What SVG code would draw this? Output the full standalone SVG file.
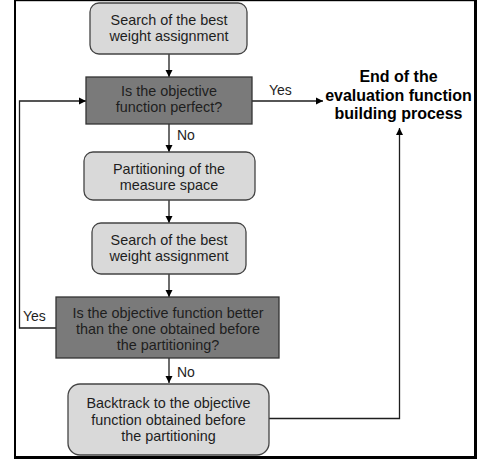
<svg xmlns="http://www.w3.org/2000/svg" width="478" height="461" viewBox="0 0 478 461">
<style>
.light{fill:#d9d9d9;stroke:#444;stroke-width:1.3}
.dark{fill:#7a7a7a;stroke:#333;stroke-width:1.3}
.t{font-family:"Liberation Sans",Arial,sans-serif;font-size:14.4px;fill:#1e1e1e;text-anchor:middle}
.lbl{font-family:"Liberation Sans",Arial,sans-serif;font-size:14px;fill:#1e1e1e}
.end{font-family:"Liberation Sans",Arial,sans-serif;font-size:16px;font-weight:bold;fill:#000;text-anchor:middle}
.c{fill:none;stroke:#1e1e1e;stroke-width:1.3}
</style>
<defs>
<marker id="ah" markerUnits="userSpaceOnUse" markerWidth="8" markerHeight="8" refX="7" refY="4" orient="auto">
<path d="M0,0.5 L7,4 L0,7.5 z" fill="#000"/>
</marker>
</defs>
<rect x="0" y="0" width="478" height="461" fill="#fff"/>
<g id="frame">
<rect x="14" y="0" width="2" height="459" fill="#000"/>
<rect x="14" y="0" width="463" height="1.2" fill="#000"/>
<rect x="474" y="0" width="3" height="459" fill="#000"/>
<rect x="14" y="456" width="463" height="3" fill="#000"/>
</g>
<g id="connectors">
<line class="c" x1="169" y1="54" x2="169" y2="77" marker-end="url(#ah)"/>
<line class="c" x1="252" y1="101" x2="323" y2="101" marker-end="url(#ah)"/>
<line class="c" x1="169" y1="124" x2="169" y2="152" marker-end="url(#ah)"/>
<line class="c" x1="169" y1="200" x2="169" y2="223" marker-end="url(#ah)"/>
<line class="c" x1="169" y1="274" x2="169" y2="297" marker-end="url(#ah)"/>
<line class="c" x1="169" y1="358" x2="169" y2="383" marker-end="url(#ah)"/>
<polyline class="c" points="56,328 19.5,328 19.5,101 86,101" marker-end="url(#ah)"/>
<polyline class="c" points="269,418.5 399.5,418.5 399.5,128" marker-end="url(#ah)"/>
<text class="lbl" x="269" y="95">Yes</text>
<text class="lbl" x="177" y="140">No</text>
<text class="lbl" x="23" y="321">Yes</text>
<text class="lbl" x="177" y="377">No</text>
</g>
<g id="n1">
<rect class="light" x="90" y="3" width="157" height="51" rx="9"/>
<text class="t" x="169" y="25">Search of the best</text>
<text class="t" x="169" y="41">weight assignment</text>
</g>
<g id="n2">
<rect class="dark" x="86" y="77" width="166" height="47"/>
<text class="t" x="169" y="96">Is the objective</text>
<text class="t" x="169" y="112">function perfect?</text>
</g>
<g id="n3">
<rect class="light" x="84" y="152" width="171" height="48" rx="9"/>
<text class="t" x="169" y="174">Partitioning of the</text>
<text class="t" x="169" y="190">measure space</text>
</g>
<g id="n4">
<rect class="light" x="92" y="223" width="154" height="51" rx="9"/>
<text class="t" x="169" y="245">Search of the best</text>
<text class="t" x="169" y="261">weight assignment</text>
</g>
<g id="n5">
<rect class="dark" x="56" y="297" width="223" height="61"/>
<text class="t" x="168" y="318">Is the objective function better</text>
<text class="t" x="168" y="334">than the one obtained before</text>
<text class="t" x="168" y="350">the partitioning?</text>
</g>
<g id="n6">
<rect class="light" x="68" y="384" width="201" height="71" rx="12"/>
<text class="t" x="168.5" y="408">Backtrack to the objective</text>
<text class="t" x="168.5" y="424.5">function obtained before</text>
<text class="t" x="168.5" y="441">the partitioning</text>
</g>
<g id="end">
<text class="end" x="398.5" y="82">End of the</text>
<text class="end" x="398.5" y="101">evaluation function</text>
<text class="end" x="398.5" y="119">building process</text>
</g>
</svg>
